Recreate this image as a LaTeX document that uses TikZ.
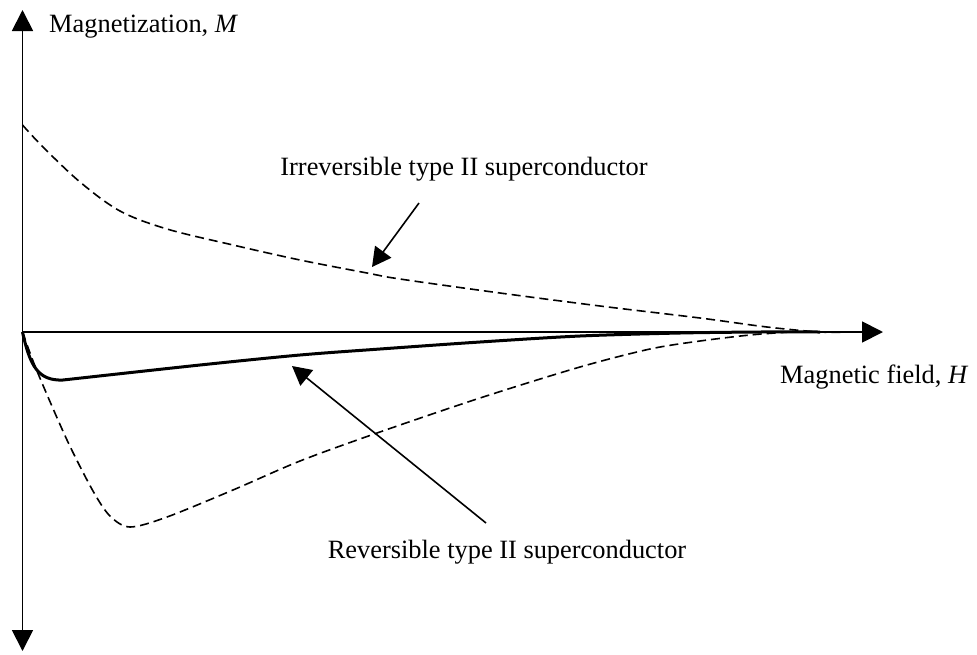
\documentclass[tikz,border=0pt]{standalone}
\usepackage{fontspec}
\setmainfont{Liberation Serif}
\usetikzlibrary{arrows.meta}
\begin{document}
\begin{tikzpicture}[x=1pt,y=-1pt,
  axisline/.style={line width=1.8pt},
  axistip/.style={-{Triangle[length=21pt,width=21pt]}},
  lbl/.style={font=\fontsize{26.4}{30}\selectfont, inner sep=0pt},
  dcurve/.style={line width=1.6pt, dash pattern=on 9pt off 5pt},
  scurve/.style={line width=3pt, line join=round},
  pointer/.style={line width=1.6pt, -{Triangle[length=19pt,width=20pt]}}]
\useasboundingbox (0,0) rectangle (977,654);
% axes
\coordinate (O) at (22.5,332);
\coordinate (ytop) at (22.5,10);
\coordinate (ybot) at (22.5,651);
\coordinate (xend) at (883,332);
\draw[axisline, {Triangle[length=21pt,width=21pt]}-{Triangle[length=21pt,width=21pt]}] (ybot) -- (ytop);
\draw[axisline, axistip] (O) -- (xend);
% labels
\node[lbl, anchor=base west] (mlab) at (49,32) {Magnetization, \textit{M}};
\node[lbl, anchor=base west] (hlab) at (780,383) {Magnetic field, \textit{H}};
\node[lbl, anchor=base] (irr) at (464,175) {Irreversible type II superconductor};
\node[lbl, anchor=base] (rev) at (507,558) {Reversible type II superconductor};
% irreversible upper branch
\draw[dcurve] plot[smooth, tension=0.55] coordinates {
  (22.5,125) (43,147) (80,182) (120,211) (167,229) (233,245) (300,260) (367,273)
  (400,279) (500,293) (600,306) (700,318) (767,327) (820,332) (850,332)};
% irreversible lower branch
\draw[dcurve] plot[smooth, tension=0.5] coordinates {
  (22.5,332) (37,371) (67,440) (93,491) (110,516) (130,527) (167,517) (233,490)
  (300,461) (377,433) (480,398) (580,367) (650,349) (700,341) (750,335) (790,332)};
% reversible curve
\draw[scurve] (O) .. controls (30,366) and (38,381) .. (63,380)
  plot[smooth, tension=0.5] coordinates {(63,380) (200,365) (300,355) (380,349)
  (480,342) (580,336) (680,333) (760,332) (820,332)};
% pointers
\coordinate (irrstart) at (419,203);
\coordinate (irrtip) at (372,267);
\coordinate (revstart) at (486,523);
\coordinate (revtip) at (292,366);
\draw[pointer] (irrstart) -- (irrtip);
\draw[pointer] (revstart) -- (revtip);
\end{tikzpicture}
\end{document}
